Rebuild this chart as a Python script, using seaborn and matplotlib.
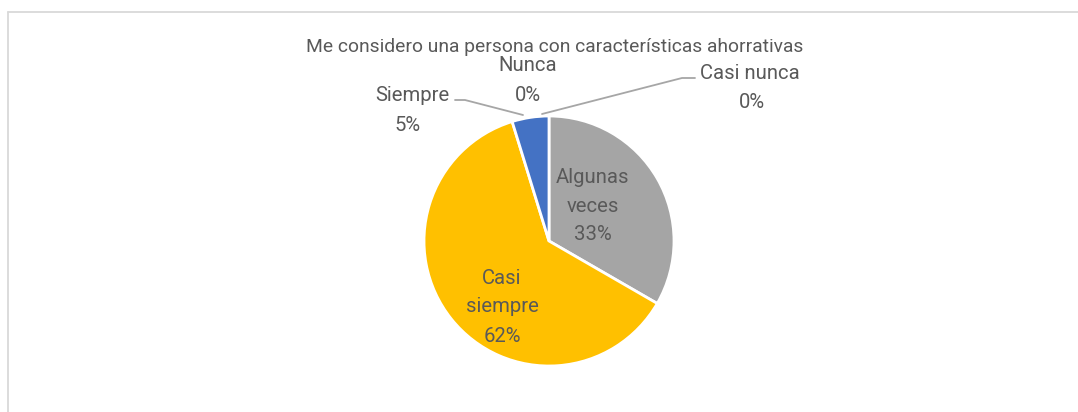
import matplotlib
matplotlib.use("Agg")
import matplotlib.pyplot as plt
import seaborn as sns
from matplotlib.lines import Line2D

sns.set_theme(style="white")
plt.rcParams['font.family'] = ['Roboto', 'DejaVu Sans']

title = "Me considero una persona con características ahorrativas"
categories = ["Nunca", "Casi nunca", "Algunas veces", "Casi siempre", "Siempre"]
values = [0, 0, 7, 13, 1]
colors = ["#4472C4", "#ED7D31", "#A5A5A5", "#FFC000", "#4472C4"]

W, H = 1078, 412
fig = plt.figure(figsize=(W / 100, H / 100), dpi=100)
ax = fig.add_axes([0, 0, 1, 1])

def Y(y):
    return H - y

cx, cy, r = 549, 241, 125
ax.pie(values, colors=colors, startangle=90, counterclock=False,
       center=(cx, Y(cy)), radius=r, frame=True,
       wedgeprops=dict(edgecolor="white", linewidth=2))
ax.set_xlim(0, W)
ax.set_ylim(0, H)
ax.set_axis_off()

total = sum(values)
pct = [f"{round(v / total * 100)}%" for v in values]
tc = "#595959"
fs = 14.6

# label positions (pixel layout)
label_layout = {
    "Nunca": [(528, 65, "Nunca"), (528, 95, pct[0])],
    "Casi nunca": [(750, 73, "Casi nunca"), (752, 102, pct[1])],
    "Algunas veces": [(593, 177, "Algunas"), (593, 206, "veces"), (593, 234, pct[2])],
    "Casi siempre": [(502, 278, "Casi"), (502, 307, "siempre"), (502, 336, pct[3])],
    "Siempre": [(412, 95, "Siempre"), (408, 125, pct[4])],
}
for cat in categories:
    for x, y, s in label_layout[cat]:
        ax.text(x, Y(y), s, ha="center", va="center", fontsize=fs, color=tc)

ax.text(555, Y(47), title, ha="center", va="center", fontsize=13.9, color=tc)

# leader lines
lc = "#A6A6A6"
ax.plot([455, 465, 523], [Y(100), Y(100), Y(115)], color=lc, lw=1.3)
ax.plot([542, 682, 695], [Y(114), Y(78), Y(78)], color=lc, lw=1.3)

# chart frame
fc = "#D9D9D9"
fig.add_artist(Line2D([8 / W, 1.0], [1 - 12 / H, 1 - 12 / H], transform=fig.transFigure, color=fc, lw=1.3))
fig.add_artist(Line2D([8 / W, 8 / W], [1 - 12 / H, 0], transform=fig.transFigure, color=fc, lw=1.3))

fig.savefig("out.png", dpi=100, facecolor="white")
